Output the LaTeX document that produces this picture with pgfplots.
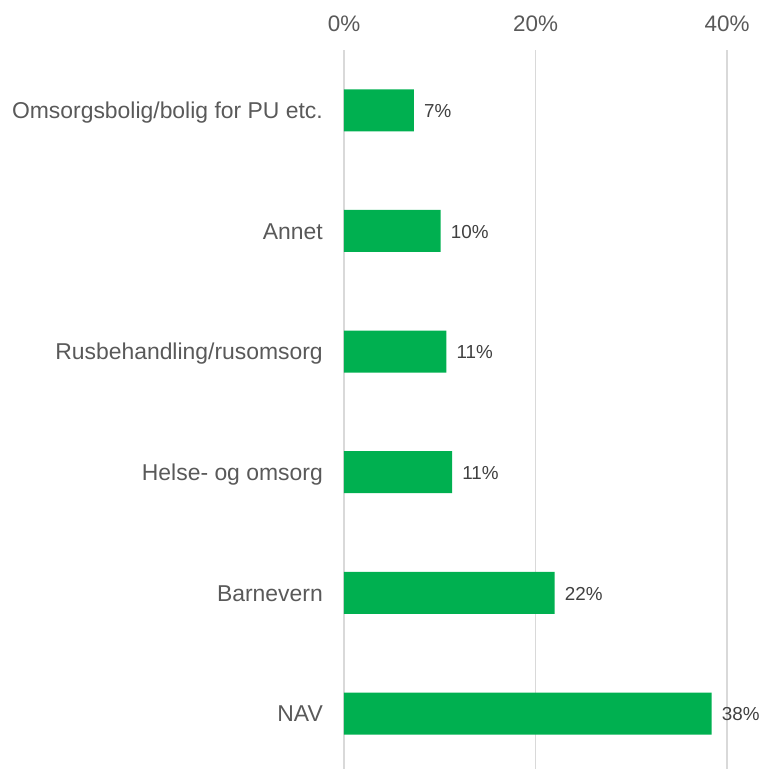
\documentclass[border=0pt]{standalone}
\usepackage{pgfplots}
\pgfplotsset{compat=1.18}
\usepackage{fontspec}
\setmainfont{Liberation Sans}
\definecolor{barg}{HTML}{00B050}
\definecolor{txt}{HTML}{595959}
\definecolor{lbl}{HTML}{404040}
\definecolor{grd}{HTML}{D9D9D9}
\begin{document}
\begin{tikzpicture}
\begin{axis}[
  at={(0,0)}, anchor=south west,
  scale only axis,
  width=418bp, height=719bp,
  xbar, bar width=42bp,
  xmin=0, xmax=43.65,
  ymin=-0.46, ymax=5.5,
  axis line style={draw=none},
  major tick length=0pt,
  xtick={0,20,40},
  xticklabel={\pgfmathprintnumber[fixed,precision=0]{\tick}\%},
  xticklabel pos=upper,
  /pgf/number format/assume math mode=true,
  xticklabel style={font=\fontsize{22.5}{26}\selectfont, text=txt, anchor=base, inner sep=0pt, yshift=18.3bp},
  xmajorgrids, grid style={grd, line width=1.3bp},
  ytick={0,1,2,3,4,5},
  yticklabels={NAV,Barnevern,Helse- og omsorg,Rusbehandling/rusomsorg,Annet,Omsorgsbolig/bolig for PU etc.},
  yticklabel style={font=\fontsize{23}{27}\selectfont, text=txt, anchor=base east, inner sep=0pt, xshift=-21bp, yshift=-8.4bp},
  nodes near coords={\pgfmathprintnumber[fixed,precision=0]{\pgfplotspointmeta}\%},
  every node near coord/.append style={font=\fontsize{18.9}{22}\selectfont, text=lbl, anchor=west, inner sep=0pt, xshift=10bp, yshift=-0.8bp},
  clip=false,
]
\addplot[draw=none, fill=barg] coordinates {
  (38.4,0) (22.0,1) (11.3,2) (10.7,3) (10.1,4) (7.3,5)
};
\end{axis}
\pgfresetboundingbox
\path[use as bounding box] (-344bp,0bp) rectangle (418bp,769bp);
\end{tikzpicture}
\end{document}
